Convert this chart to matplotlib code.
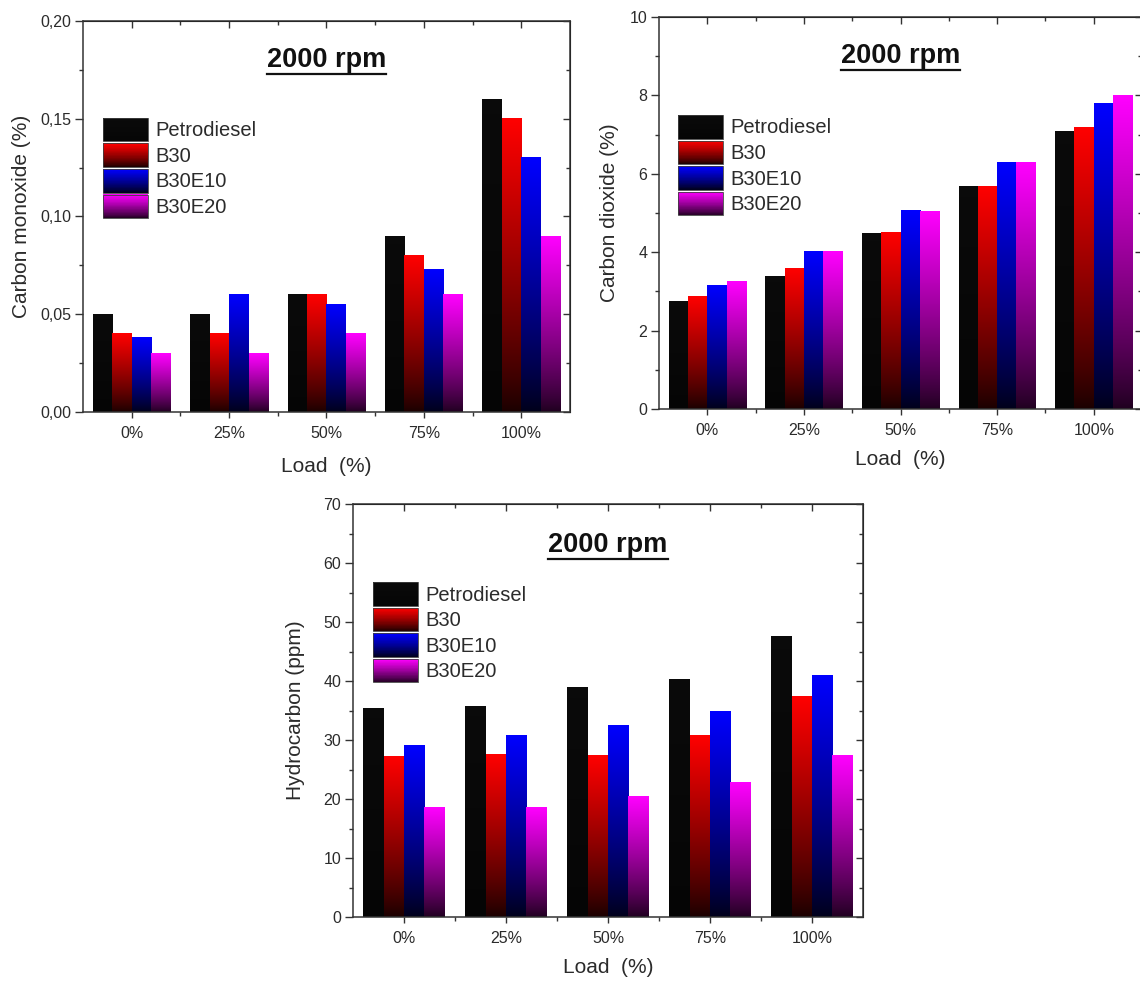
import numpy as np
import matplotlib
matplotlib.use("Agg")
import matplotlib.pyplot as plt
from matplotlib.patches import Rectangle, Patch
from matplotlib.legend_handler import HandlerBase
from matplotlib.ticker import MultipleLocator, FuncFormatter, FixedLocator

plt.rcParams['font.family'] = ['Liberation Sans', 'DejaVu Sans']

# ---------------- data ----------------
loads = ["0%", "25%", "50%", "75%", "100%"]
fuels = ["Petrodiesel", "B30", "B30E10", "B30E20"]

co_petro = [0.050, 0.050, 0.060, 0.090, 0.160]
co_b30 = [0.040, 0.040, 0.060, 0.080, 0.150]
co_b30e10 = [0.038, 0.060, 0.055, 0.073, 0.130]
co_b30e20 = [0.030, 0.030, 0.040, 0.060, 0.090]

co2_petro = [2.74, 3.39, 4.47, 5.68, 7.09]
co2_b30 = [2.88, 3.59, 4.49, 5.68, 7.18]
co2_b30e10 = [3.14, 4.02, 5.07, 6.28, 7.79]
co2_b30e20 = [3.25, 4.02, 5.03, 6.28, 7.99]

hc_petro = [35.3, 35.7, 38.9, 40.2, 47.6]
hc_b30 = [27.2, 27.5, 27.4, 30.8, 37.4]
hc_b30e10 = [29.0, 30.8, 32.5, 34.9, 41.0]
hc_b30e20 = [18.5, 18.5, 20.5, 22.8, 27.4]

# gradient colours (top, bottom) for each fuel
top_colors = [(0.04, 0.04, 0.04), (1.0, 0.0, 0.0), (0.0, 0.0, 1.0), (1.0, 0.0, 1.0)]
bottom_colors = [(0.02, 0.02, 0.02), (0.10, 0.0, 0.0), (0.0, 0.0, 0.10), (0.12, 0.0, 0.12)]
GAMMA = 0.85
TXT = '#2b2b2b'


def grad_array(top, bottom, n=256):
    t = np.linspace(0, 1, n) ** GAMMA
    top = np.array(top)
    bottom = np.array(bottom)
    arr = bottom[None, :] + (top - bottom)[None, :] * t[:, None]
    return arr[:, None, :].repeat(2, axis=1)


class GradHandler(HandlerBase):
    def __init__(self, top, bottom):
        super().__init__()
        self.top = np.array(top)
        self.bottom = np.array(bottom)

    def create_artists(self, legend, orig_handle, xdescent, ydescent,
                       width, height, fontsize, trans):
        n = 40
        arts = []
        for i in range(n):
            t = ((i + 0.5) / n) ** GAMMA
            c = self.bottom + (self.top - self.bottom) * t
            r = Rectangle((-xdescent, -ydescent + height * i / n), width,
                          height / n * 1.05, facecolor=np.clip(c, 0, 1),
                          edgecolor='none', transform=trans)
            arts.append(r)
        edge = Rectangle((-xdescent, -ydescent), width, height, facecolor='none',
                         edgecolor=(0.25, 0.25, 0.25), lw=0.6, transform=trans)
        arts.append(edge)
        return arts


def draw_panel(ax, series, ylim, major, minor, ylabel, fmt, ylabel_x, xlabel_y,
               leg_anchor):
    x = np.arange(len(loads))
    width = 0.2
    offsets = [-0.3, -0.1, 0.1, 0.3]
    for vals, off, tc, bc in zip(series, offsets, top_colors, bottom_colors):
        bars = ax.bar(x + off, vals, width, color='none', edgecolor='none', zorder=3)
        g = grad_array(tc, bc)
        for b in bars:
            x0 = b.get_x()
            w = b.get_width()
            h = b.get_height()
            ax.imshow(g, extent=[x0, x0 + w, 0, h], origin='lower',
                      aspect='auto', interpolation='bilinear', zorder=2)
    ax.set_xlim(-0.5, len(loads) - 0.5)
    ax.set_ylim(*ylim)
    ax.set_aspect('auto')
    ax.set_xticks(x)
    ax.set_xticklabels(loads)
    ax.xaxis.set_minor_locator(FixedLocator(np.arange(len(loads) - 1) + 0.5))
    ax.yaxis.set_major_locator(MultipleLocator(major))
    ax.yaxis.set_minor_locator(MultipleLocator(minor))
    if fmt is not None:
        ax.yaxis.set_major_formatter(FuncFormatter(fmt))
    for s in ax.spines.values():
        s.set_linewidth(1.1)
        s.set_color('#333333')
    ax.tick_params(axis='both', which='both', colors='#333333', labelcolor=TXT,
                   labelsize=11.5, width=1.0)
    ax.tick_params(axis='y', which='major', direction='out', length=5.5, pad=3)
    ax.tick_params(axis='y', which='minor', direction='out', length=3)
    ax.tick_params(axis='x', which='major', direction='out', length=4, pad=6)
    ax.tick_params(axis='x', which='minor', direction='out', length=3)
    sec_x = ax.secondary_xaxis('top')
    sec_x.set_xticks(x)
    sec_x.xaxis.set_minor_locator(FixedLocator(np.arange(len(loads) - 1) + 0.5))
    sec_x.tick_params(which='major', direction='in', length=5, labeltop=False,
                      colors='#333333', width=1.0)
    sec_x.tick_params(which='minor', direction='in', length=3, colors='#333333', width=1.0)
    sec_x.set_xticklabels([])
    sec_y = ax.secondary_yaxis('right')
    sec_y.yaxis.set_major_locator(MultipleLocator(major))
    sec_y.yaxis.set_minor_locator(MultipleLocator(minor))
    sec_y.tick_params(which='major', direction='in', length=5, labelright=False,
                      colors='#333333', width=1.0)
    sec_y.tick_params(which='minor', direction='in', length=3, colors='#333333', width=1.0)
    sec_y.set_yticklabels([])

    ax.set_ylabel(ylabel, fontsize=15, color=TXT)
    ax.yaxis.set_label_coords(ylabel_x, 0.5)
    ax.set_xlabel("Load  (%)", fontsize=15, color=TXT)
    ax.xaxis.set_label_coords(0.5, xlabel_y)

    t = ax.text(0.5, 0.9, "2000 rpm", transform=ax.transAxes, ha='center',
                va='center', fontsize=19.5, fontweight='bold', color='#111111')

    handles = [Patch(label=f) for f in fuels]
    hmap = {h: GradHandler(tc, bc) for h, tc, bc in zip(handles, top_colors, bottom_colors)}
    leg = ax.legend(handles=handles, handler_map=hmap, loc='upper left',
                    bbox_to_anchor=leg_anchor, frameon=False, fontsize=14.5,
                    handlelength=2.25, handleheight=1.42, labelspacing=0.1,
                    handletextpad=0.35, borderpad=0, borderaxespad=0)
    for txt in leg.get_texts():
        txt.set_color(TXT)
    return t


fig = plt.figure(figsize=(11.4, 9.83), dpi=100)
ax1 = fig.add_axes([0.0728, 0.5809, 0.4272, 0.3978])
ax2 = fig.add_axes([0.5781, 0.5839, 0.4237, 0.3988])
ax3 = fig.add_axes([0.3096, 0.0671, 0.4474, 0.4201])

comma = lambda v, p: f"{v:.2f}".replace('.', ',')
intf = lambda v, p: f"{v:.0f}"

t1 = draw_panel(ax1, [co_petro, co_b30, co_b30e10, co_b30e20], (0, 0.20), 0.05, 0.025,
                "Carbon monoxide (%)", comma, -0.107, -0.115, (0.041, 0.752))
t2 = draw_panel(ax2, [co2_petro, co2_b30, co2_b30e10, co2_b30e20], (0, 10), 2, 1,
                "Carbon dioxide (%)", intf, -0.083, -0.105, (0.039, 0.75))
t3 = draw_panel(ax3, [hc_petro, hc_b30, hc_b30e10, hc_b30e20], (0, 70), 10, 5,
                "Hydrocarbon (ppm)", intf, -0.094, -0.100, (0.039, 0.811))

# underline titles
fig.canvas.draw()
r = fig.canvas.get_renderer()
for ax, t in [(ax1, t1), (ax2, t2), (ax3, t3)]:
    bb = t.get_window_extent(renderer=r)
    inv = ax.transAxes.inverted()
    (x0, y0), (x1, y1) = inv.transform([(bb.x0, bb.y0), (bb.x1, bb.y1)])
    ax.plot([x0, x1], [y0 - 0.002, y0 - 0.002], transform=ax.transAxes,
            color='#111111', lw=1.6, clip_on=False, zorder=5)

fig.savefig("out.png", dpi=100, facecolor='white')
